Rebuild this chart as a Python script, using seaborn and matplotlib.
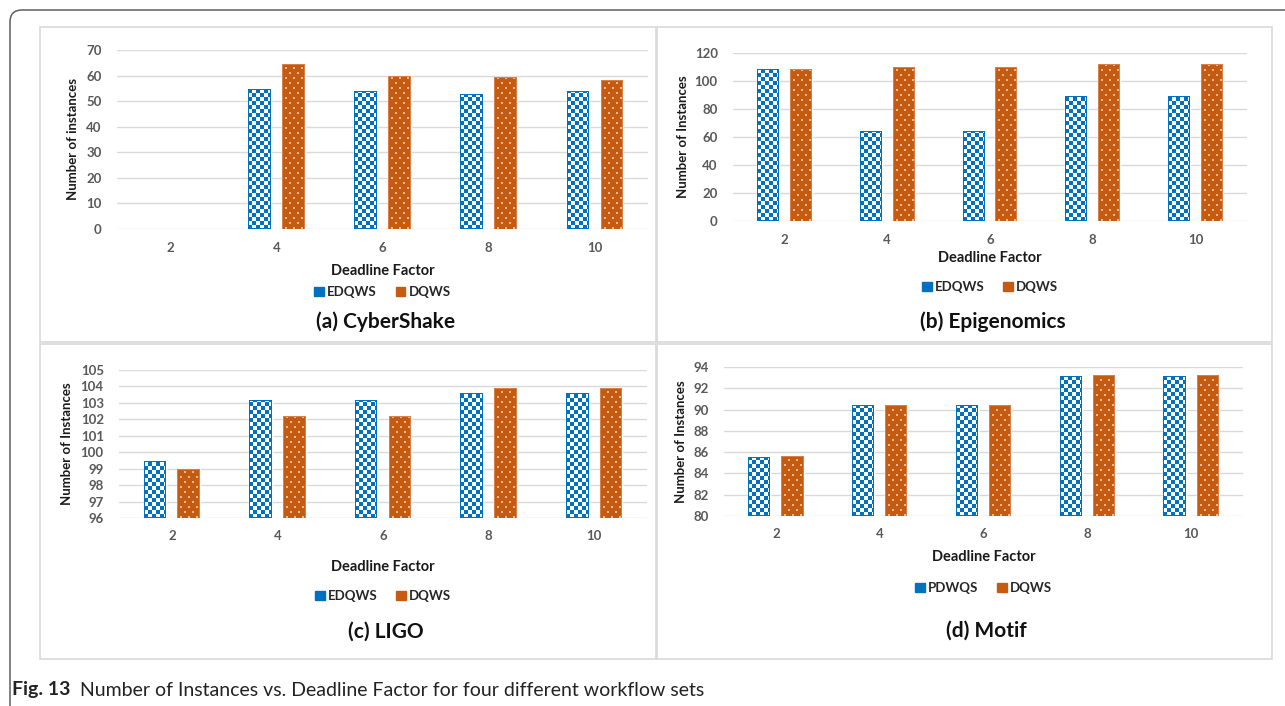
import matplotlib
matplotlib.use('Agg')
import matplotlib.pyplot as plt
import numpy as np
import pandas as pd
import seaborn as sns
from matplotlib.patches import Patch, FancyBboxPatch, Rectangle
from matplotlib.transforms import IdentityTransform

# data
factors = ['2', '4', '6', '8', '10']

cyber_edqws = [np.nan, 54.6, 53.8, 52.9, 54.0]
cyber_dqws = [np.nan, 64.5, 59.7, 59.3, 58.3]

epi_edqws = [108.7, 64.6, 64.6, 89.0, 89.0]
epi_dqws = [108.7, 109.7, 109.7, 112.1, 112.1]

ligo_edqws = [99.45, 103.15, 103.15, 103.6, 103.6]
ligo_dqws = [99.0, 102.2, 102.2, 103.9, 103.9]

motif_pdwqs = [85.5, 90.4, 90.4, 93.2, 93.2]
motif_dqws = [85.6, 90.45, 90.45, 93.25, 93.25]

titles = ['(a) CyberShake', '(b) Epigenomics', '(c) LIGO', '(d) Motif']
ylabels = ['Number of instances', 'Number of Instances', 'Number of Instances', 'Number of Instances']
series_names = [['EDQWS', 'DQWS'], ['EDQWS', 'DQWS'], ['EDQWS', 'DQWS'], ['PDWQS', 'DQWS']]
series_values = [[cyber_edqws, cyber_dqws], [epi_edqws, epi_dqws],
                 [ligo_edqws, ligo_dqws], [motif_pdwqs, motif_dqws]]
ylims = [(0, 70), (0, 120), (96, 105), (80, 94)]
ytick_steps = [10, 20, 1, 2]

BLUE = '#0070C0'
ORANGE = '#C55A11'
W, H = 1285, 706

sns.set_theme(style='white')
plt.rcParams['font.family'] = ['Lato', 'DejaVu Sans']

fig = plt.figure(figsize=(W / 100, H / 100), dpi=100)


def fx(x):
    return x / W


def fy(y):
    return 1 - y / H


# layout in image pixels: axes box (left, top, right, bottom), then y of xlabel, legend, title, x of ylabel
layout = [
    dict(box=(117, 50, 648, 229), xl=271, lg=292, tt=322, yl=73),
    dict(box=(733, 53, 1247, 221), xl=258, lg=287, tt=322, yl=683),
    dict(box=(119, 370, 647, 518), xl=567, lg=596, tt=632, yl=67),
    dict(box=(724, 367, 1243, 516), xl=557, lg=588, tt=631, yl=681),
]

# outer frame (only top-left corner visible) and panel frames
fig.patches.append(FancyBboxPatch((10, -60), 1500, 756, boxstyle='round,pad=0,rounding_size=12',
                                  transform=IdentityTransform(), fill=False, ec='#5f5f5f', lw=1.1))
for (x0, y0, x1, y1) in [(40, 27, 656, 342), (657, 27, 1272, 342), (40, 344, 656, 659), (657, 344, 1272, 659)]:
    fig.patches.append(Rectangle((x0, H - y1), x1 - x0, y1 - y0, transform=IdentityTransform(),
                                 fill=False, ec='#d9d9d9', lw=1.2))


def checker(w, h):
    ii, jj = np.mgrid[0:h, 0:w]
    on = ((ii // 4) + (jj // 4)) % 2 == 0
    arr = np.ones((h, w, 3))
    arr[on] = matplotlib.colors.to_rgb(BLUE)
    edge = (ii == 0) | (ii == h - 1) | (jj == 0) | (jj == w - 1)
    arr[edge] = matplotlib.colors.to_rgb(BLUE)
    return arr


def dots(w, h):
    ii, jj = np.mgrid[0:h, 0:w]
    arr = np.empty((h, w, 3))
    arr[:] = matplotlib.colors.to_rgb(ORANGE)
    row = ii // 5
    shift = (row % 2) * 4
    on = ((ii % 5) < 2) & (((jj + shift) % 8) >= 3) & (((jj + shift) % 8) < 5)
    arr[on] = matplotlib.colors.to_rgb('#EAB896')
    edge = (jj == 0) | (jj == w - 1) | (ii == h - 1)
    arr[edge] = matplotlib.colors.to_rgb('#D9804A')
    return arr


for k in range(4):
    L = layout[k]
    x0, y0, x1, y1 = L['box']
    ax = fig.add_axes([fx(x0), fy(y1), fx(x1 - x0), (y1 - y0) / H])

    names = series_names[k]
    df = pd.DataFrame({
        'factor': factors * 2,
        'algo': [names[0]] * 5 + [names[1]] * 5,
        'value': list(series_values[k][0]) + list(series_values[k][1]),
    })
    sns.barplot(data=df, x='factor', y='value', hue='algo', order=factors, hue_order=names,
                palette=[BLUE, ORANGE], saturation=1, width=0.64, gap=0.33,
                errorbar=None, legend=False, ax=ax, zorder=2)

    lo, hi = ylims[k]
    ax.set_ylim(lo, hi)
    ax.set_xlim(-0.5, 4.5)
    ax.set_yticks(np.arange(lo, hi + 0.01, ytick_steps[k]))
    ax.yaxis.grid(True, color='#d9d9d9', lw=1.0)
    ax.set_axisbelow(True)
    for s in ax.spines.values():
        s.set_visible(False)
    ax.tick_params(axis='both', length=0, colors='#595959', labelsize=9.5)
    ax.tick_params(axis='y', pad=11)
    ax.tick_params(axis='x', pad=9)
    for lab in ax.get_xticklabels() + ax.get_yticklabels():
        lab.set_fontweight('bold')
    ax.set_xlabel('')
    ax.set_ylabel('')

    # fill patterns over the seaborn bars
    for ci, cont in enumerate(ax.containers):
        for bar in cont:
            if not np.isfinite(bar.get_height()) or bar.get_height() == 0:
                continue
            bb = bar.get_bbox()
            by0 = max(bb.y0, lo)
            (px0, py0), (px1, py1) = ax.transData.transform([[bb.x0, by0], [bb.x1, bb.y1]])
            px0, py0, px1, py1 = [int(round(v)) for v in (px0, py0, px1, py1)]
            w, h = px1 - px0, py1 - py0
            arr = checker(w, h) if ci == 0 else dots(w, h)
            fig.figimage(arr, xo=px0, yo=py0, origin='lower', zorder=3)

    cx = (x0 + x1) / 2
    fig.text(fx(cx), fy(L['xl']), 'Deadline Factor', ha='center', va='center',
             fontsize=10.5, fontweight='bold', color='#1a1a1a')
    fig.text(fx(L['yl']), fy((y0 + y1) / 2), ylabels[k], ha='center', va='center', rotation=90,
             fontsize=9.5, fontweight='bold', color='#1a1a1a')
    fig.text(fx(cx + 3), fy(L['tt']), titles[k], ha='center', va='center',
             fontsize=15, fontweight='bold', color='#111111')
    handles = [Patch(facecolor=BLUE, edgecolor=BLUE), Patch(facecolor=ORANGE, edgecolor=ORANGE)]
    fig.legend(handles, names, loc='center', bbox_to_anchor=(fx(cx), fy(L['lg'])), ncol=2,
               frameon=False, handlelength=0.75, handleheight=0.75, handletextpad=0.25,
               columnspacing=1.4, prop=dict(weight='bold', size=9.5), labelcolor='#262626')

fig.text(fx(12), fy(690), 'Fig. 13', ha='left', va='center', fontsize=14, fontweight='bold',
         color='#222222')
fig.text(fx(80), fy(690), 'Number of Instances vs. Deadline Factor for four different workflow sets',
         ha='left', va='center', fontsize=14, color='#222222')

fig.savefig('out.png', dpi=100)
